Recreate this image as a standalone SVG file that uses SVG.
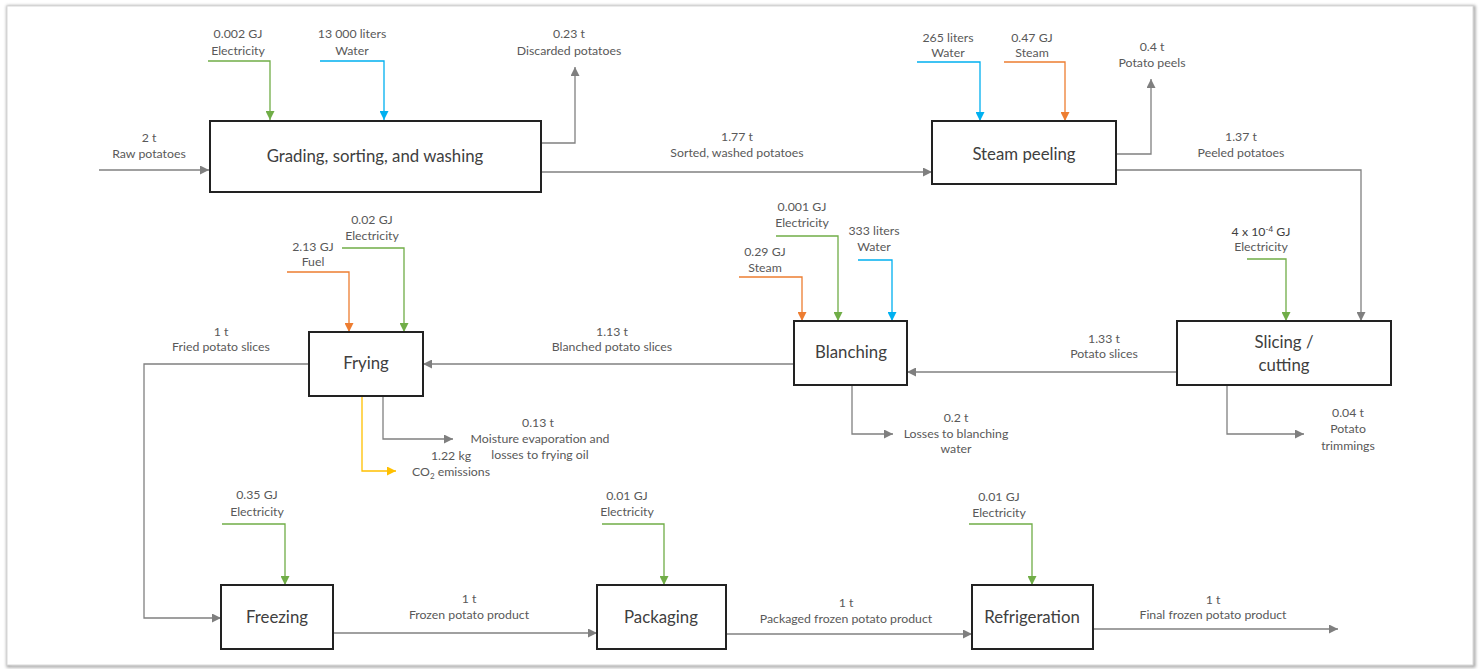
<svg xmlns="http://www.w3.org/2000/svg" width="1481" height="669" viewBox="0 0 1481 669">
<style>
.lbl{font-family:Lato,"Liberation Sans",sans-serif;font-size:12.3px;fill:#595959;text-anchor:middle}
.dk{fill:#404040}
.box{fill:#fff;stroke:#222;stroke-width:2}
.bt{font-family:Lato,"Liberation Sans",sans-serif;font-size:16.8px;fill:#404040;text-anchor:middle}
.c{fill:none;stroke-width:1.3}
.g{stroke:#808080}
.gr{stroke:#70AD47}
.bl{stroke:#00B0F0}
.or{stroke:#ED7D31}
.ye{stroke:#FFC000}
</style>
<defs>
<filter id="sh" x="-5%" y="-5%" width="110%" height="110%">
<feGaussianBlur stdDeviation="1.5"/>
</filter>
<marker id="mg" viewBox="0 0 10 10" refX="10" refY="5" markerWidth="9" markerHeight="9" markerUnits="userSpaceOnUse" orient="auto"><path d="M0,0 L10,5 L0,10 z" fill="#7F7F7F"/></marker>
<marker id="mgr" viewBox="0 0 10 10" refX="10" refY="5" markerWidth="9" markerHeight="9" markerUnits="userSpaceOnUse" orient="auto"><path d="M0,0 L10,5 L0,10 z" fill="#70AD47"/></marker>
<marker id="mbl" viewBox="0 0 10 10" refX="10" refY="5" markerWidth="9" markerHeight="9" markerUnits="userSpaceOnUse" orient="auto"><path d="M0,0 L10,5 L0,10 z" fill="#00B0F0"/></marker>
<marker id="mor" viewBox="0 0 10 10" refX="10" refY="5" markerWidth="9" markerHeight="9" markerUnits="userSpaceOnUse" orient="auto"><path d="M0,0 L10,5 L0,10 z" fill="#ED7D31"/></marker>
<marker id="mye" viewBox="0 0 10 10" refX="10" refY="5" markerWidth="9" markerHeight="9" markerUnits="userSpaceOnUse" orient="auto"><path d="M0,0 L10,5 L0,10 z" fill="#FFC000"/></marker>
</defs>
<rect width="1481" height="669" fill="#fff"/>
<g id="frame">
<rect x="8" y="7" width="1466" height="659" fill="none" stroke="#a0a0a0" stroke-width="3" filter="url(#sh)"/>
<rect x="7" y="6" width="1466" height="659" fill="#fff" stroke="#d8d8d8" stroke-width="1"/>
</g>
<g id="connectors">
<path class="c g" d="M99,170 H209" marker-end="url(#mg)"/>
<path class="c gr" d="M208,61 H270 V120" marker-end="url(#mgr)"/>
<path class="c bl" d="M320,61 H384 V120" marker-end="url(#mbl)"/>
<path class="c g" d="M541,143 H575 V67" marker-end="url(#mg)"/>
<path class="c g" d="M541,172 H932" marker-end="url(#mg)"/>
<path class="c bl" d="M917,62 H980 V121" marker-end="url(#mbl)"/>
<path class="c or" d="M1004,62 H1065 V121" marker-end="url(#mor)"/>
<path class="c g" d="M1116,154 H1151 V79" marker-end="url(#mg)"/>
<path class="c g" d="M1116,170 H1361 V321" marker-end="url(#mg)"/>
<path class="c gr" d="M1247,259 H1286 V321" marker-end="url(#mgr)"/>
<path class="c g" d="M1177,372 H907" marker-end="url(#mg)"/>
<path class="c g" d="M1227,386 V434 H1304" marker-end="url(#mg)"/>
<path class="c or" d="M739,277 H802 V321" marker-end="url(#mor)"/>
<path class="c gr" d="M776,236 H838 V321" marker-end="url(#mgr)"/>
<path class="c bl" d="M858,260 H892 V321" marker-end="url(#mbl)"/>
<path class="c g" d="M794,364 H423" marker-end="url(#mg)"/>
<path class="c g" d="M852,386 V434 H893" marker-end="url(#mg)"/>
<path class="c or" d="M287,272 H349 V332" marker-end="url(#mor)"/>
<path class="c gr" d="M342,248 H404 V332" marker-end="url(#mgr)"/>
<path class="c g" d="M309,364 H144 V618 H221" marker-end="url(#mg)"/>
<path class="c g" d="M383,396 V439 H453" marker-end="url(#mg)"/>
<path class="c ye" d="M362,396 V471 H396" marker-end="url(#mye)"/>
<path class="c gr" d="M222,524 H285 V585" marker-end="url(#mgr)"/>
<path class="c g" d="M333,633 H597" marker-end="url(#mg)"/>
<path class="c gr" d="M602,524 H664 V585" marker-end="url(#mgr)"/>
<path class="c g" d="M726,634 H972" marker-end="url(#mg)"/>
<path class="c gr" d="M969,524 H1032 V585" marker-end="url(#mgr)"/>
<path class="c g" d="M1093,629 H1338" marker-end="url(#mg)"/>
</g>
<g id="labels">
<text class="lbl" x="238" y="38">0.002 GJ</text><text class="lbl" x="238" y="55">Electricity</text>
<text class="lbl" x="352" y="38">13 000 liters</text><text class="lbl" x="352" y="55">Water</text>
<text class="lbl" x="569" y="38">0.23 t</text><text class="lbl" x="569" y="55">Discarded potatoes</text>
<text class="lbl" x="149" y="142">2 t</text><text class="lbl" x="149" y="158">Raw potatoes</text>
<text class="lbl" x="737" y="141">1.77 t</text><text class="lbl" x="737" y="157">Sorted, washed potatoes</text>
<text class="lbl" x="948" y="42">265 liters</text><text class="lbl" x="948" y="57">Water</text>
<text class="lbl" x="1032" y="42">0.47 GJ</text><text class="lbl" x="1032" y="57">Steam</text>
<text class="lbl" x="1152" y="51">0.4 t</text><text class="lbl" x="1152" y="67">Potato peels</text>
<text class="lbl" x="1241" y="141">1.37 t</text><text class="lbl" x="1241" y="157">Peeled potatoes</text>
<text class="lbl dk" x="1261" y="236">4 x 10<tspan dy="-4" font-size="8">-4</tspan><tspan dy="4"> GJ</tspan></text><text class="lbl" x="1261" y="251">Electricity</text>
<text class="lbl" x="1104" y="343">1.33 t</text><text class="lbl" x="1104" y="358">Potato slices</text>
<text class="lbl" x="1348" y="417">0.04 t</text><text class="lbl" x="1348" y="433">Potato</text><text class="lbl" x="1348" y="450">trimmings</text>
<text class="lbl" x="802" y="211">0.001 GJ</text><text class="lbl" x="802" y="227">Electricity</text>
<text class="lbl" x="874" y="235">333 liters</text><text class="lbl" x="874" y="251">Water</text>
<text class="lbl" x="765" y="256">0.29 GJ</text><text class="lbl" x="765" y="272">Steam</text>
<text class="lbl" x="612" y="336">1.13 t</text><text class="lbl" x="612" y="351">Blanched potato slices</text>
<text class="lbl" x="956" y="422">0.2 t</text><text class="lbl" x="956" y="438">Losses to blanching</text><text class="lbl" x="956" y="453">water</text>
<text class="lbl" x="538" y="427">0.13 t</text><text class="lbl" x="540" y="443">Moisture evaporation and</text><text class="lbl" x="540" y="459">losses to frying oil</text>
<text class="lbl" x="372" y="224">0.02 GJ</text><text class="lbl" x="372" y="240">Electricity</text>
<text class="lbl" x="313" y="251">2.13 GJ</text><text class="lbl" x="313" y="266">Fuel</text>
<text class="lbl" x="221" y="336">1 t</text><text class="lbl" x="221" y="351">Fried potato slices</text>
<text class="lbl" x="451" y="460">1.22 kg</text><text class="lbl" x="451" y="476">CO<tspan dy="3" font-size="8">2</tspan><tspan dy="-3"> emissions</tspan></text>
<text class="lbl" x="257" y="499">0.35 GJ</text><text class="lbl" x="257" y="516">Electricity</text>
<text class="lbl" x="469" y="603">1 t</text><text class="lbl" x="469" y="619">Frozen potato product</text>
<text class="lbl" x="627" y="500">0.01 GJ</text><text class="lbl" x="627" y="516">Electricity</text>
<text class="lbl" x="846" y="607">1 t</text><text class="lbl" x="846" y="623">Packaged frozen potato product</text>
<text class="lbl" x="999" y="501">0.01 GJ</text><text class="lbl" x="999" y="517">Electricity</text>
<text class="lbl" x="1213" y="604">1 t</text><text class="lbl" x="1213" y="619">Final frozen potato product</text>
</g>
<g id="grading"><rect class="box" x="210" y="121" width="331" height="71"/><text class="bt" x="375" y="162">Grading, sorting, and washing</text></g>
<g id="steam-peeling"><rect class="box" x="932" y="121" width="184" height="63"/><text class="bt" x="1024" y="160">Steam peeling</text></g>
<g id="slicing"><rect class="box" x="1177" y="321" width="214" height="64"/><text class="bt" x="1284" y="348">Slicing /</text><text class="bt" x="1284" y="371">cutting</text></g>
<g id="blanching"><rect class="box" x="794" y="321" width="113" height="64"/><text class="bt" x="851" y="358">Blanching</text></g>
<g id="frying"><rect class="box" x="309" y="332" width="114" height="64"/><text class="bt" x="366" y="369">Frying</text></g>
<g id="freezing"><rect class="box" x="221" y="585" width="112" height="64"/><text class="bt" x="277" y="623">Freezing</text></g>
<g id="packaging"><rect class="box" x="597" y="585" width="129" height="64"/><text class="bt" x="661" y="623">Packaging</text></g>
<g id="refrigeration"><rect class="box" x="972" y="585" width="121" height="64"/><text class="bt" x="1032" y="623">Refrigeration</text></g>
</svg>
